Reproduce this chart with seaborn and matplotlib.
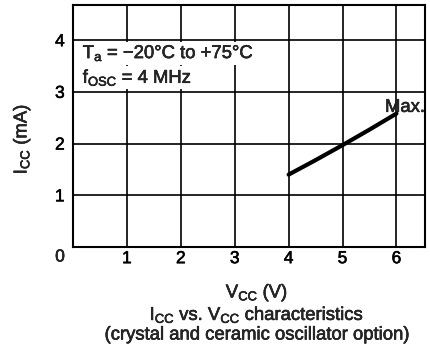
import matplotlib
matplotlib.use("Agg")
import matplotlib.pyplot as plt
import matplotlib.patheffects as pe
import seaborn as sns
import pandas as pd

vcc = [4.0, 4.5, 5.0, 5.5, 6.0]
icc_max = [1.40, 1.68, 1.97, 2.27, 2.58]
x_ticks = [1, 2, 3, 4, 5, 6]
y_ticks = [1, 2, 3, 4]

sns.set_style("white")
plt.rcParams['font.family'] = ['Liberation Sans', 'DejaVu Sans']
plt.rcParams['mathtext.fontset'] = 'custom'
plt.rcParams['mathtext.rm'] = 'Liberation Sans'
plt.rcParams['mathtext.it'] = 'Liberation Sans'
plt.rcParams['mathtext.default'] = 'regular'

stroke = [pe.withStroke(linewidth=0.4, foreground="black")]
FS = 13.3
TS = 12.5

fig = plt.figure(figsize=(4.3, 3.53), dpi=100)
ax = fig.add_axes([73/430, 1-247/353, (425-73)/430, (247-5)/353])

df = pd.DataFrame({"Vcc": vcc, "Icc": icc_max})
sns.lineplot(data=df, x="Vcc", y="Icc", ax=ax, color="black", linewidth=3.0)

ax.set_xlim(0, 6.53)
ax.set_ylim(0, 4.68)
ax.set_xticks(x_ticks)
ax.set_yticks(y_ticks)
ax.set_xticklabels([str(v) for v in x_ticks])
ax.set_yticklabels([str(v) for v in y_ticks])
ax.tick_params(length=0, labelsize=TS, colors="black")
ax.tick_params(axis="x", pad=3)
ax.tick_params(axis="y", pad=6)
for lab in ax.get_xticklabels() + ax.get_yticklabels():
    lab.set_path_effects(stroke)
ax.grid(True, color="black", linewidth=1.2)
ax.set_axisbelow(True)
for s in ax.spines.values():
    s.set_color("black")
    s.set_linewidth(1.5)
ax.set_xlabel("")
ax.set_ylabel("")

fig.text(60/430, 1-257/353, "0", fontsize=TS, ha="center", va="center", path_effects=stroke)

ax.text(0.18, 3.75, r"T$_{a}$ = −20°C to +75°C", fontsize=FS, ha="left", va="center",
        bbox=dict(facecolor="white", edgecolor="none", pad=1.0), path_effects=stroke)
ax.text(0.18, 3.27, r"f$_{OSC}$ = 4 MHz", fontsize=FS, ha="left", va="center",
        bbox=dict(facecolor="white", edgecolor="none", pad=1.0), path_effects=stroke)
ax.text(6.53, 2.70, "Max.", fontsize=FS, ha="right", va="center", path_effects=stroke)

fig.text(22/430, 1-139/353, r"I$_{CC}$ (mA)", fontsize=FS, rotation=90, ha="center", va="center", path_effects=stroke)
fig.text(257/430, 1-293/353, r"V$_{CC}$ (V)", fontsize=FS, ha="center", va="center", path_effects=stroke)
fig.text(257/430, 1-315/353, r"I$_{CC}$ vs. V$_{CC}$ characteristics", fontsize=FS, ha="center", va="center", path_effects=stroke)
fig.text(257/430, 1-335/353, "(crystal and ceramic oscillator option)", fontsize=FS, ha="center", va="center", path_effects=stroke)

fig.savefig("out.png", dpi=100)
